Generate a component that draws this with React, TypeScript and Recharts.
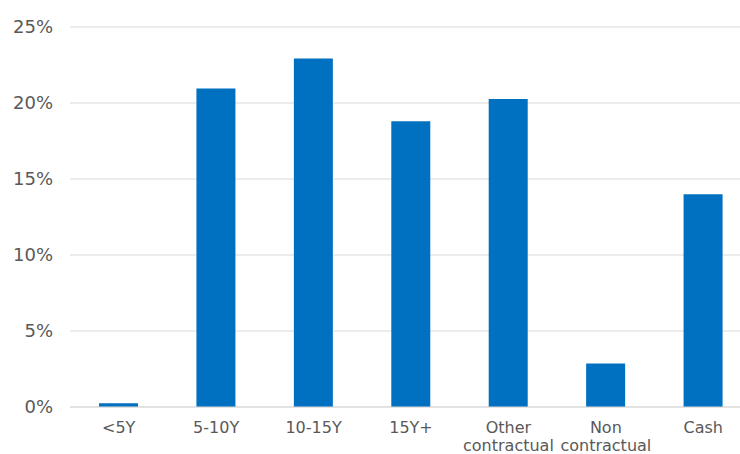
import React from "react";
import { BarChart, Bar, XAxis, YAxis, CartesianGrid } from "recharts";

const categories = ["<5Y", "5-10Y", "10-15Y", "15Y+", "Other contractual", "Non contractual", "Cash"];
const shares = [0.25, 20.95, 22.92, 18.8, 20.26, 2.86, 14.0];
const yTicks = [0, 5, 10, 15, 20, 25];

const data = categories.map((c, i) => ({ name: c, value: shares[i] }));

const FONT = "'DejaVu Sans', Verdana, sans-serif";

const XTick = (props: any) => {
  const { x, y, payload } = props;
  const lines = String(payload.value).split(" ");
  return (
    <text x={x} y={y + 26} textAnchor="middle" fill="#595959" fontSize={16} fontFamily={FONT}>
      {lines.map((l: string, i: number) => (
        <tspan key={i} x={x} dy={i === 0 ? 0 : 18}>
          {l}
        </tspan>
      ))}
    </text>
  );
};

export default function App() {
  return (
    <div style={{ position: "absolute", left: 0, top: 0, width: 740, height: 454, overflow: "hidden", background: "#fff" }}>
      <BarChart width={752} height={454} data={data} margin={{ top: 27, right: 0, left: 0, bottom: 0 }} barSize={39}>
        <CartesianGrid vertical={false} stroke="#d9d9d9" strokeWidth={1} />
        <XAxis
          dataKey="name"
          height={47}
          axisLine={{ stroke: "#d9d9d9" }}
          tickLine={false}
          tickSize={0}
          tickMargin={0}
          interval={0}
          tick={<XTick />}
        />
        <YAxis
          width={70}
          domain={[0, 25]}
          ticks={yTicks}
          axisLine={false}
          tickLine={false}
          tickSize={0}
          tickMargin={17}
          tickFormatter={(v: number) => `${v}%`}
          tick={{ fill: "#595959", fontSize: 18, fontFamily: FONT }}
        />
        <Bar dataKey="value" fill="#0070C0" isAnimationActive={false} />
      </BarChart>
    </div>
  );
}
